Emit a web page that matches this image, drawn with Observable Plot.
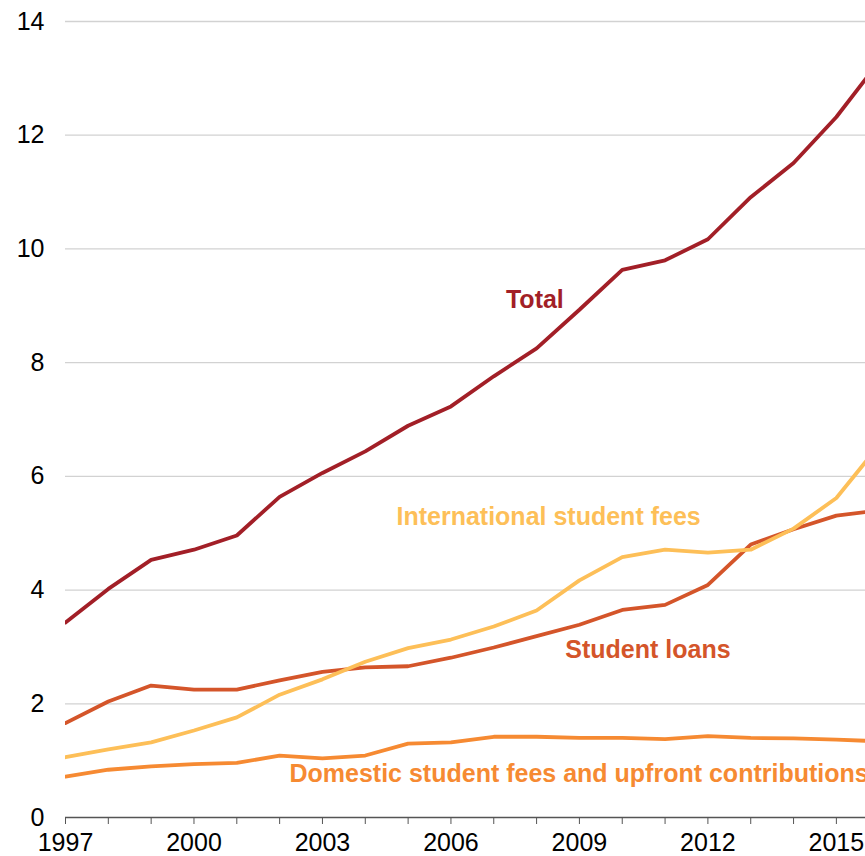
<!DOCTYPE html>
<html>
<head>
<meta charset="utf-8">
<script src="https://cdn.jsdelivr.net/npm/d3@7"></script>
<script src="https://cdn.jsdelivr.net/npm/@observablehq/plot@0.6"></script>
<style>
  html, body { margin: 0; padding: 0; background: #fff; overflow: hidden; }
  #chart svg { display: block; }
</style>
</head>
<body>
<div id="chart"></div>
<script>
const years = d3.range(1997, 2017);
const total    = [3.43, 4.02, 4.53, 4.71, 4.96, 5.64, 6.06, 6.44, 6.89, 7.23, 7.76, 8.25, 8.93, 9.63, 9.80, 10.17, 10.91, 11.51, 12.32, 13.30];
const loans    = [1.66, 2.04, 2.32, 2.25, 2.25, 2.41, 2.56, 2.64, 2.66, 2.81, 2.99, 3.19, 3.39, 3.65, 3.74, 4.09, 4.80, 5.07, 5.31, 5.40];
const intl     = [1.06, 1.20, 1.32, 1.53, 1.76, 2.16, 2.43, 2.74, 2.98, 3.13, 3.36, 3.64, 4.17, 4.58, 4.71, 4.66, 4.71, 5.08, 5.62, 6.55];
const domestic = [0.72, 0.84, 0.90, 0.94, 0.96, 1.09, 1.04, 1.09, 1.30, 1.32, 1.42, 1.42, 1.40, 1.40, 1.38, 1.43, 1.40, 1.39, 1.37, 1.34];

const seriesNames = ["Total", "Student loans", "International student fees", "Domestic student fees and upfront contributions"];
const seriesValues = [total, loans, intl, domestic];
const seriesColors = ["#a21f27", "#d4552a", "#fdbf58", "#f68a32"];

// label anchor positions (in data units)
const labelX = [2007.96, 2010.6, 2008.28, 2002.23];
const labelY = [9.11, 2.94, 5.28, 0.77];
const labelAnchor = ["middle", "middle", "middle", "start"];

const yTicks = [0, 2, 4, 6, 8, 10, 12, 14];
const gridTicks = [2, 4, 6, 8, 10, 12, 14];

const rows = [];
seriesNames.forEach((name, i) => {
  years.forEach((yr, j) => rows.push({series: name, year: yr, value: seriesValues[i][j]}));
});
const labels = seriesNames.map((name, i) => ({series: name, x: labelX[i], y: labelY[i], anchor: labelAnchor[i]}));

const colorOf = Object.fromEntries(seriesNames.map((n, i) => [n, seriesColors[i]]));

const chart = Plot.plot({
  width: 865,
  height: 856,
  marginLeft: 65,
  marginRight: 0,
  marginTop: 21,
  marginBottom: 39,
  style: {fontFamily: "'Liberation Sans', Arial, sans-serif", fontSize: "25px", color: "#000", background: "#fff"},
  x: {domain: [1997, 2015.68], label: null},
  y: {domain: [0, 14], label: null},
  marks: [
    Plot.ruleY(gridTicks, {stroke: "#d2d2d2", strokeWidth: 1.3}),
    Plot.axisY({ticks: yTicks, tickSize: 0, tickPadding: 21, label: null, fontSize: 25, tickFormat: d => d}),
    Plot.ruleY([0], {stroke: "#555", strokeWidth: 1.3}),
    Plot.axisX({ticks: years.filter(y => y <= 2015), tickSize: 7, tickPadding: 9, label: null, fontSize: 25,
      stroke: "#555", tickFormat: d => ((d - 1997) % 3 === 0 ? String(d) : "")}),
    ...seriesNames.map(name => Plot.line(rows.filter(r => r.series === name), {
      x: "year", y: "value", stroke: colorOf[name], strokeWidth: 3.8, clip: true, strokeLinejoin: "miter"
    })),
    ...labels.map(l => Plot.text([l], {
      x: "x", y: "y", text: "series", fill: colorOf[l.series], textAnchor: l.anchor,
      fontWeight: "bold", fontSize: 25, lineAnchor: "middle"
    }))
  ]
});
document.getElementById("chart").appendChild(chart);
</script>
</body>
</html>
